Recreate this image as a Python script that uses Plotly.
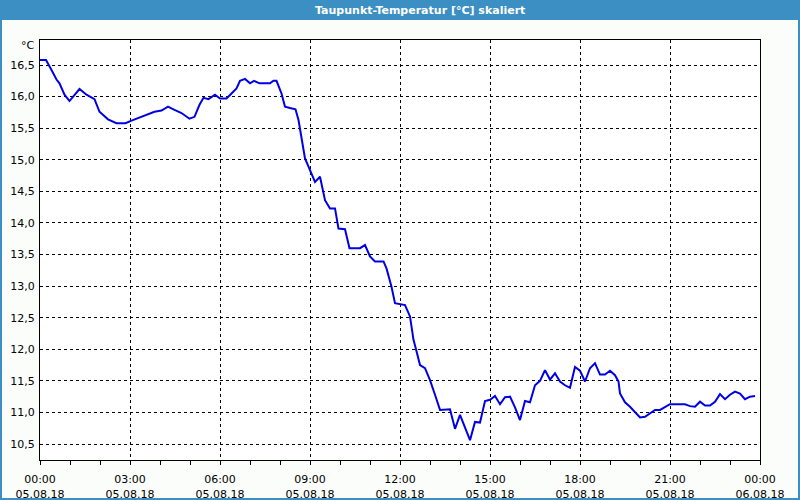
import plotly.graph_objects as go
import pandas as pd

# Time of day (HH:MM) on 05.08.18 and dew point values [°C]
times = ["00:00","00:12","00:23","00:33","00:39","00:49","00:59","01:19","01:33","01:49",
         "01:59","02:16","02:33","02:51","03:03","03:16","03:33","03:49","04:03","04:16",
         "04:29","04:43","04:59","05:09","05:19","05:27","05:37","05:50","06:00","06:13",
         "06:23","06:33","06:40","06:50","07:00","07:08","07:19","07:40","07:47","07:53",
         "08:03","08:10","08:20","08:31","08:37","08:43","08:50","08:57","09:10","09:20",
         "09:30","09:40","09:50","09:57","10:10","10:19","10:40","10:50","11:00","11:10",
         "11:27","11:33","11:43","11:50","12:10","12:20","12:27","12:32","12:40","12:50",
         "13:00","13:10","13:20","13:40","13:50","14:00","14:10","14:20","14:30","14:40",
         "14:50","15:00","15:10","15:20","15:30","15:40","15:50","16:00","16:10","16:20",
         "16:30","16:40","16:50","17:00","17:10","17:20","17:30","17:40","17:50","18:00",
         "18:10","18:20","18:30","18:40","18:50","19:00","19:10","19:17","19:20","19:30",
         "19:40","19:50","20:00","20:10","20:20","20:30","20:40","20:50","21:00","21:30",
         "21:40","21:50","22:00","22:10","22:20","22:30","22:40","22:50","23:00","23:10",
         "23:20","23:30","23:40","23:50"]
values = [16.58,16.58,16.42,16.27,16.21,16.03,15.93,16.12,16.03,15.96,
          15.76,15.64,15.58,15.58,15.62,15.66,15.70,15.76,15.78,15.84,
          15.79,15.74,15.65,15.68,15.87,15.98,15.96,16.03,15.97,15.97,
          16.05,16.13,16.25,16.28,16.21,16.25,16.21,16.21,16.25,16.25,
          16.05,15.84,15.82,15.80,15.63,15.37,15.02,14.89,14.65,14.73,
          14.36,14.23,14.23,13.91,13.90,13.60,13.60,13.65,13.47,13.39,
          13.39,13.28,12.99,12.73,12.70,12.52,12.15,12.00,11.75,11.70,
          11.51,11.28,11.04,11.05,10.74,10.96,10.75,10.56,10.85,10.84,
          11.18,11.20,11.26,11.13,11.24,11.25,11.08,10.88,11.18,11.16,
          11.43,11.50,11.67,11.52,11.62,11.49,11.43,11.39,11.72,11.66,
          11.49,11.70,11.78,11.60,11.60,11.66,11.59,11.49,11.30,11.16,
          11.09,11.01,10.92,10.93,10.99,11.04,11.04,11.09,11.13,11.13,
          11.10,11.09,11.17,11.11,11.11,11.17,11.29,11.21,11.28,11.33,
          11.30,11.21,11.25,11.26]

y_ticks = [10.5, 11.0, 11.5, 12.0, 12.5, 13.0, 13.5, 14.0, 14.5, 15.0, 15.5, 16.0, 16.5]
y_labels = ["10,5","11,0","11,5","12,0","12,5","13,0","13,5","14,0","14,5","15,0","15,5","16,0","16,5"]

title_text = "Taupunkt-Temperatur [°C] skaliert"
unit_text = "°C"

x = pd.to_datetime(["2018-08-05 " + t for t in times])

FONT = "DejaVu Sans"
W, H = 800, 500
ML, MR, MT, MB = 40, 40, 40, 40
PW, PH = W - ML - MR, H - MT - MB

def px_x(p):
    return (p - ML) / PW

def px_y(p):
    return (H - MB - p) / PH

fig = go.Figure()
fig.add_trace(go.Scatter(x=x, y=values, mode="lines",
                         line=dict(color="#0000e6", width=2), hoverinfo="skip"))

fig.update_layout(
    width=W, height=H,
    margin=dict(l=ML, r=MR, t=MT, b=MB),
    paper_bgcolor="#fbfdfb",
    plot_bgcolor="#ffffff",
    showlegend=False,
    font=dict(family=FONT, size=11, color="#000000"),
    xaxis=dict(
        type="date", automargin=False,
        range=["2018-08-05 00:00", "2018-08-06 00:00"],
        tick0="2018-08-05 00:00", dtick=3 * 3600 * 1000,
        tickformat="%H:%M<br>%d.%m.%y",
        ticks="outside", ticklen=4, tickcolor="#000000",
        minor=dict(dtick=3600 * 1000, ticks="outside", ticklen=4,
                   tickcolor="#000000", showgrid=False),
        showgrid=True, gridcolor="#000000", gridwidth=1, griddash="3px,3px",
        showline=True, linecolor="#000000", linewidth=1, mirror=True,
        zeroline=False, tickfont=dict(family=FONT, size=11),
        ticklabelstandoff=5,
    ),
    yaxis=dict(
        automargin=False,
        range=[10.247, 16.896],
        tickvals=y_ticks, ticktext=y_labels,
        ticks="", showgrid=True, gridcolor="#000000", gridwidth=1, griddash="3px,3px",
        showline=True, linecolor="#000000", linewidth=1, mirror=True,
        zeroline=False, tickfont=dict(family=FONT, size=11),
        ticklabelstandoff=2,
    ),
    shapes=[
        dict(type="rect", xref="paper", yref="paper",
             x0=px_x(0), x1=px_x(W), y0=px_y(20), y1=px_y(0),
             fillcolor="#3c8fc3", line=dict(width=0), layer="above"),
        dict(type="rect", xref="paper", yref="paper",
             x0=px_x(1), x1=px_x(W - 1), y0=px_y(H - 1), y1=px_y(1),
             fillcolor="rgba(0,0,0,0)", line=dict(color="#3c8fc3", width=2), layer="above"),
    ],
    annotations=[
        dict(text="<b>" + title_text + "</b>", xref="paper", yref="paper",
             x=px_x(420), y=px_y(10), xanchor="center", yanchor="middle",
             showarrow=False, font=dict(family=FONT, size=11, color="#ffffff")),
        dict(text=unit_text, xref="paper", yref="paper",
             x=px_x(37), y=px_y(46), xanchor="right", yanchor="middle",
             showarrow=False, font=dict(family=FONT, size=11, color="#000000")),
    ],
)

fig.write_html("out.html")
